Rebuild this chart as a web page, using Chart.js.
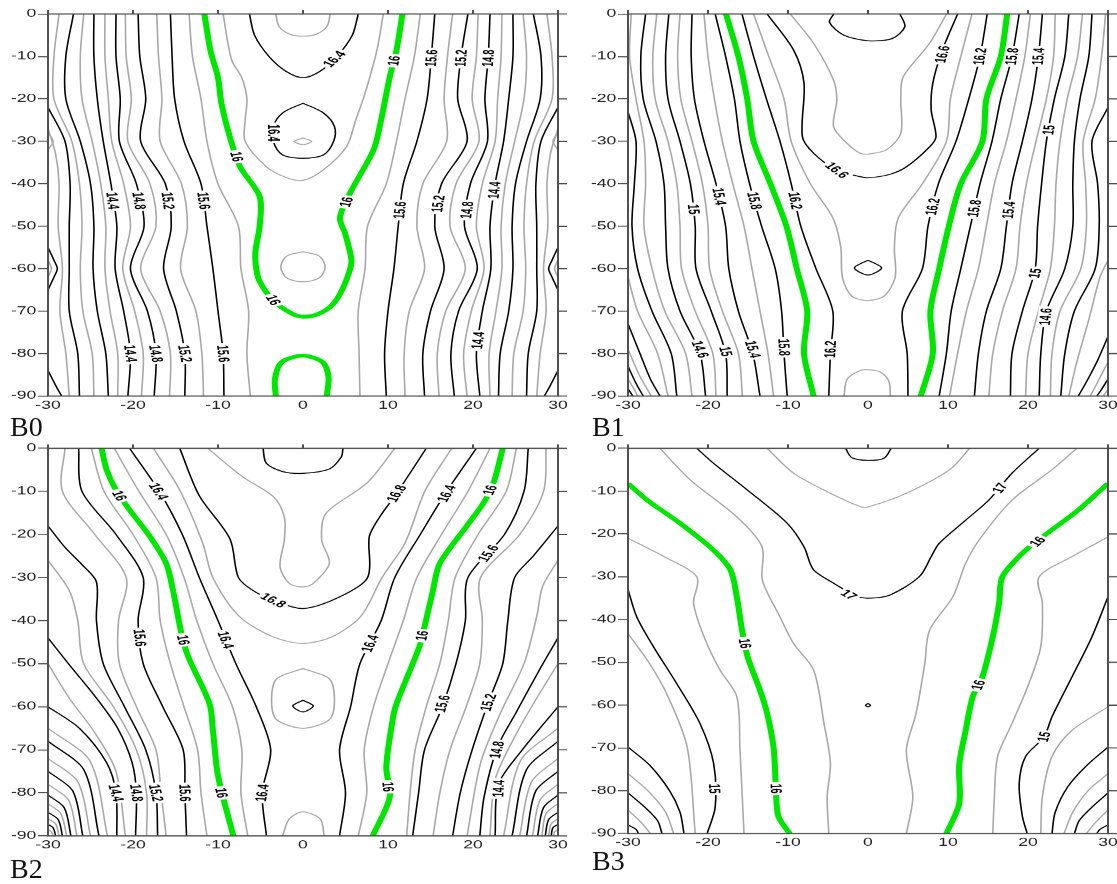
<!DOCTYPE html>
<html>
<head>
<meta charset="utf-8">
<script src="https://cdn.jsdelivr.net/npm/chart.js@4"></script>
<style>
  html, body { margin: 0; padding: 0; background: #fff; overflow: hidden; }
  #wrap { position: relative; width: 1117px; height: 884px; }
  canvas { position: absolute; transform: scaleX(1.6); transform-origin: 0 0; }
  .tag { position: absolute; font-family: "Liberation Serif", "Times New Roman", serif; font-size: 28px; line-height: 28px; color: #111; }
</style>
</head>
<body>
<div id="wrap">
  <canvas id="b0" width="360" height="425" style="left:0;top:0;width:360px;height:425px"></canvas>
  <canvas id="b1" width="345" height="425" style="left:575px;top:0;width:345px;height:425px"></canvas>
  <canvas id="b2" width="360" height="459" style="left:0;top:425px;width:360px;height:459px"></canvas>
  <canvas id="b3" width="345" height="459" style="left:575px;top:425px;width:345px;height:459px"></canvas>
  <div class="tag" style="left:10px;top:413px">B0</div>
  <div class="tag" style="left:592px;top:413px">B1</div>
  <div class="tag" style="left:10px;top:855px">B2</div>
  <div class="tag" style="left:592px;top:847px">B3</div>
</div>
<script>
// depth samples shared by most contour lines (y values)
const depths = [0, -10, -20, -30, -40, -50, -60, -70, -80, -90];
const xRange = [-30, 30];
const yRange = [-90, 0];

// contour lines: [style, x values, depths (optional, default = depths)]
// style: k = labelled level (black), g = intermediate level (grey), G = level 16 (green)
const b0Lines = [
  ['k', [-15.6, -15.4, -15.1, -14.0, -12.0, -11.3, -10.6, -10.0, -9.4, -9.3]],
  ['g', [-13.4, -13.0, -12.0, -11.3, -10.0, -7.6, -7.3, -6.4, -6.6, -6.2]],
  ['g', [-17.2, -17.0, -16.6, -16.8, -14.3, -13.6, -14.4, -12.6, -11.9, -11.7]],
  ['k', [-19.4, -19.2, -18.5, -19.1, -16.2, -15.5, -16.4, -14.9, -13.9, -13.9]],
  ['g', [-20.9, -20.8, -20.2, -20.6, -18.0, -17.3, -19.1, -16.8, -15.6, -15.7]],
  ['k', [-22.0, -22.0, -21.5, -21.6, -19.6, -18.7, -20.3, -18.3, -17.3, -17.5]],
  ['g', [-23.3, -23.3, -22.9, -22.5, -21.1, -20.3, -21.2, -19.8, -18.8, -19.0]],
  ['k', [-24.6, -24.6, -24.2, -23.5, -22.6, -21.9, -22.1, -21.1, -20.3, -20.6]],
  ['g', [-25.8, -26.2, -26.0, -24.8, -23.8, -23.2, -23.3, -22.7, -21.8, -21.8]],
  ['k', [-27.0, -27.9, -27.9, -26.2, -25.0, -24.6, -24.7, -24.2, -23.2, -22.9]],
  ['g', [-28.7, -29.3, -29.3, -27.2, -26.3, -26.0, -26.2, -25.9, -24.8, -24.6]],
  ['k', [-30, -28.0, -27.4, -27.5, -27.5, -27.5, -26.5, -26.3], [-22, -30, -40, -50, -60, -70, -80, -90]],
  ['g', [-30, -29.1, -28.7, -28.8, -28.3, -28.6, -27.9, -27.5], [-27, -33, -40, -50, -60, -70, -80, -90]],
  ['k', [-30, -29.3, -28.9, -29.3, -30], [-55, -58, -60, -62, -65]],
  ['k', [-30, -29.1, -28.4], [-84, -87.5, -90]],
  ['g', [-30, -29.4, -30], [-28, -30, -32]],
  ['g', [-30, -29.6, -30], [-58, -60, -62]],
  ['g', [-9.4, -8.4, -7.2, -6.6, -6.8, -6.8, -4.3, -2.0, 0, 2.35, 5.1, 6.2, 7.3, 8.7, 9.45],
        [0, -10.8, -15, -20, -25, -30, -36, -38.5, -39.2, -36.8, -31.3, -25, -18.7, -8.5, 0]],
  ['k', [-6.3, -5.7, -4, -2, 0, 2, 4, 5.8, 6.5], [0, -5, -10, -13.5, -15, -13.5, -10, -5, 0]],
  ['g', [-3.2, -2.8, -1.5, 0, 1.5, 2.8, 3.2], [0, -3, -4.8, -5.2, -4.8, -3, 0]],
  ['k', [0, 2.4, 3.7, 3.6, 2.4, 0, -2.4, -3.5, -3.5, -2.4, 0], [-21, -23.3, -26.5, -30, -33.2, -34, -33.2, -30, -26.5, -23.3, -21]],
  ['g', [0, 1, 0, -1, 0], [-29.2, -30, -30.8, -30, -29.2]],
  ['g', [0, 1.9, 2.6, 1.9, 0, -1.9, -2.6, -1.9, 0], [-56, -57, -59.6, -62.2, -63.1, -62.2, -59.6, -57, -56]],
  ['k', [15.5, 15.1, 14.6, 13.4, 11.8, 11.2, 10.7, 10.0, 9.6, 9.8]],
  ['g', [13.8, 13.1, 12.0, 11.0, 9.8, 7.6, 7.3, 6.5, 6.6, 6.7]],
  ['g', [17.6, 17.0, 16.6, 16.9, 14.1, 13.4, 14.3, 12.5, 11.9, 12.0]],
  ['k', [19.4, 18.6, 18.2, 19.3, 16.3, 15.5, 16.6, 15.0, 14.1, 14.3]],
  ['g', [20.6, 20.4, 19.9, 20.7, 18.0, 17.3, 19.1, 16.8, 15.8, 16.0]],
  ['k', [22.0, 21.8, 21.4, 21.7, 19.7, 19.0, 20.5, 18.3, 17.4, 17.8]],
  ['g', [23.4, 23.3, 22.9, 22.6, 21.1, 20.4, 21.3, 19.8, 18.9, 19.3]],
  ['k', [24.7, 24.7, 24.2, 23.6, 22.6, 22.0, 22.1, 21.1, 20.4, 20.8]],
  ['g', [25.9, 26.3, 26.0, 24.9, 23.8, 23.3, 23.4, 22.7, 21.9, 22.0]],
  ['k', [27.1, 28.0, 27.9, 26.3, 25.0, 24.6, 24.7, 24.2, 23.2, 23.0]],
  ['g', [28.7, 29.3, 29.3, 27.2, 26.3, 26.0, 26.2, 25.9, 24.8, 24.6]],
  ['k', [30, 28.0, 27.4, 27.5, 27.5, 27.5, 26.5, 26.3], [-22, -30, -40, -50, -60, -70, -80, -90]],
  ['g', [30, 29.1, 28.7, 28.8, 28.3, 28.6, 27.9, 27.5], [-27, -33, -40, -50, -60, -70, -80, -90]],
  ['k', [30, 29.3, 28.9, 29.3, 30], [-55, -58, -60, -62, -65]],
  ['k', [30, 29.1, 28.4], [-84, -87.5, -90]],
  ['g', [30, 29.4, 30], [-28, -30, -32]],
  ['g', [30, 29.6, 30], [-58, -60, -62]],
  ['G', [-11.6, -10.9, -10.0, -9.6, -8.6, -7.4, -5.1, -5.1, -5.6, -5.5, -5.1, -3.5, -1.2, 0, 1.5, 3.2, 4.35, 5.4, 5.7, 5.0, 4.35, 5.5, 8.3, 9.1, 10.2, 11.0, 11.7],
        [0, -8.5, -15, -21, -29, -36, -43, -50, -56, -60, -63, -67.5, -70.7, -71.3, -70.9, -69, -66, -61, -58, -52, -48, -42.3, -32, -25.8, -14.9, -8.5, 0]],
  ['G', [-3.2, -3.3, -2.5, 0, 2.3, 3.0, 2.8], [-90, -86, -82, -80.5, -82, -85.5, -90]]
];
const b0Labels = [
  ['14.4', -22.4, -44], ['14.8', -19.3, -44], ['15.2', -15.9, -44], ['15.6', -11.7, -44],
  ['14.4', -20.3, -80], ['14.8', -17.3, -80], ['15.2', -13.9, -80], ['15.6', -9.4, -80],
  ['16', -7.8, -33.6], ['16', -3.5, -67.4], ['16.4', -3.5, -28], ['16.4', 3.7, -10.6],
  ['16', 10.7, -11], ['16', 5.1, -44.3],
  ['15.6', 15.1, -10.4], ['15.2', 18.6, -10.4], ['14.8', 21.8, -10.4],
  ['15.6', 11.4, -46.2], ['15.2', 15.9, -44.7], ['14.8', 19.3, -46.2], ['14.4', 22.5, -41.5], ['14.4', 20.6, -76.9]
];

const b1Lines = [
  ['k', [-27.8, -28.4, -28.1, -26.5, -25.5, -25.3, -25.0, -23.5, -21.0, -20.3]],
  ['g', [-26.4, -26.9, -26.6, -25.0, -23.9, -23.5, -23.3, -21.6, -19.4, -19.0]],
  ['k', [-24.9, -25.3, -25.0, -23.5, -22.2, -21.6, -21.5, -19.6, -17.8, -17.6]],
  ['g', [-23.5, -23.8, -23.4, -22.0, -20.7, -20.0, -19.8, -18.2, -16.2, -15.7]],
  ['k', [-22.0, -22.1, -21.7, -20.5, -19.0, -17.8, -17.4, -16.2, -14.4, -13.5]],
  ['g', [-20.5, -20.0, -19.2, -18.2, -16.9, -15.5, -14.5, -13.5, -12.5, -11.8]],
  ['k', [-19.1, -17.8, -16.7, -16.0, -14.8, -13.3, -11.6, -10.8, -10.5, -10.1]],
  ['k', [-15.75, -14.3, -12.7, -11.0, -9.6, -8.4, -6.5, -4.4, -4.7, -4.9]],
  ['g', [-14.3, -12.4, -10.5, -9.6, -7.2, -4.4, -3.4, -3.2, -2.0, 0, 2.0, 3.4, 3.3, 3.8, 6.8, 9.8, 10.3, 11.6, 13.0],
        [0, -10, -20, -30, -40, -48, -55, -62, -66.5, -67.5, -66.5, -62, -55, -48, -40, -30, -20, -10, 0]],
  ['k', [-12.6, -9.3, -8.0, -8.2, -6.8, -3.9, -1.0, 0, 2.7, 4.8, 7.7, 8.5, 7.9, 8.1, 9.3, 11.2],
        [0, -8.5, -16.3, -28.9, -32.8, -36.8, -38.3, -38.6, -37.8, -36, -31.3, -28.9, -22.6, -16.3, -8.5, 0]],
  ['g', [-9.7, -6.8, -4.3, -3.9, -4.3, -2.6, -1.0, 0, 2.3, 4.1, 4.1, 4.4, 7.7, 9.8],
        [0, -6.9, -15.6, -20.3, -26.6, -30.5, -32.8, -33, -32, -28.1, -20.3, -14.8, -6.9, 0]],
  ['k', [-4.3, -4.8, -3, 0, 3, 4.6, 4.0], [0, -2, -5, -6.3, -5.8, -3, 0]],
  ['k', [0, 1.7, 0, -1.7, 0], [-58, -59.8, -61.5, -59.8, -58]],
  ['g', [-3.0, -2.6, -1, 0, 1.5, 2.6, 2.8], [-90, -86, -84, -83.8, -84.3, -86.5, -90]],
  ['g', [-29.6, -29.8, -29.0, -28.0, -27.8, -28.0, -27.0, -25.4, -22.8, -22.0]],
  ['k', [-30, -29.0, -29.2, -29.5, -28.8, -27.0, -24.6, -23.9], [-23, -30, -40, -50, -60, -70, -80, -90]],
  ['g', [-30, -28.8, -26.3, -25.0], [-62, -70, -80, -90]],
  ['k', [-30, -28.5, -27.2, -26.0], [-73, -80, -86, -90]],
  ['g', [-30, -28.6, -27.1], [-79, -85, -90]],
  ['k', [-30, -29.0, -28.1], [-83, -87, -90]],
  ['g', [-30, -29.2, -28.8], [-86, -88.5, -90]],
  ['k', [-30, -29.4], [-88.3, -90]],
  ['k', [18.9, 18.0, 16.6, 15.5, 14.0, 12.8, 11.6, 10.4, 9.8, 8.9]],
  ['g', [20.3, 19.6, 18.5, 17.3, 15.8, 14.8, 13.8, 12.3, 11.2, 10.2]],
  ['k', [21.8, 21.3, 20.5, 19.3, 18.0, 17.3, 16.6, 14.8, 13.8, 13.3]],
  ['g', [23.4, 23.2, 22.3, 21.0, 19.8, 19.0, 18.5, 16.8, 15.6, 15.1]],
  ['k', [25.1, 24.6, 23.3, 22.3, 21.7, 21.2, 20.9, 19.3, 18.0, 17.8]],
  ['g', [26.8, 26.2, 24.9, 24.0, 23.5, 23.3, 22.8, 21.3, 20.0, 19.7]],
  ['k', [28.0, 27.6, 26.5, 25.8, 25.6, 25.6, 24.6, 22.3, 21.6, 21.4]],
  ['g', [29.7, 29.2, 28.4, 26.9, 27.2, 27.3, 26.6, 24.0, 23.0, 22.8]],
  ['k', [30, 28.0, 28.7, 28.9, 28.4, 25.8, 24.6, 24.1], [-22, -30, -40, -50, -60, -70, -80, -90]],
  ['g', [30, 29.0, 27.6, 26.1, 25.1], [-58, -62, -72, -82, -90]],
  ['k', [30, 28.6, 27.5, 26.3], [-76, -82, -86, -90]],
  ['g', [30, 28.9, 27.8], [-82, -86, -90]],
  ['k', [30, 29.0, 28.6], [-86, -89, -90]],
  ['g', [30, 29.4], [-88.5, -90]],
  ['k', [14.9, 14.0, 12.6, 11.0, 8.8, 7.5, 6.8, 4.3, 4.9, 5.0]],
  ['G', [-17.75, -16.2, -15.1, -14.3, -12.2, -10.2, -8.9, -7.6, -8.0, -6.8]],
  ['G', [17.4, 16.6, 14.8, 14.3, 11.6, 10.1, 8.9, 7.8, 8.1, 6.6]]
];
const b1Labels = [
  ['15', -21.8, -46], ['15.4', -18.6, -43], ['15.8', -14.2, -44], ['16.2', -9.1, -44], ['16.6', -3.9, -36.8],
  ['14.6', -21.0, -79], ['15', -17.8, -79.5], ['15.4', -14.4, -79], ['15.8', -10.5, -78.5], ['16.2', -4.7, -79],
  ['16.6', 9.3, -9.5], ['16.2', 14.0, -10], ['15.8', 18.0, -10], ['15.4', 21.3, -10], ['15', 22.6, -27.3],
  ['16.2', 8.1, -45.4], ['15.8', 13.3, -45.8], ['15.4', 17.6, -46.2], ['15', 20.9, -61.1], ['14.6', 22.2, -71.3]
];

const b2Lines = [
  ['g', [-22.2, -19.3, -16.1, -14.0, -12.5, -10.6, -8.3, -7.2, -7.3, -6.5]],
  ['k', [-20.4, -16.9, -14.2, -12.2, -10.0, -7.9, -5.5, -3.8, -4.8, -4.3]],
  ['g', [-17.6, -14.5, -11.8, -10.6, -7.5, -3.5, 0, 3.4, 6.8, 9.3, 12.0, 14.4, 17.5], [0, -9.7, -22, -30, -39, -43.8, -45.3, -43.8, -39, -30, -22, -9.7, 0]],
  ['k', [-14.5, -12.2, -8.6, -7.6, -5.9, -3.5, 0, 4.3, 7.6, 7.8, 9.0, 11.0, 14.5], [0, -11, -21, -30, -33, -35.3, -37.2, -34.5, -30, -20.5, -16, -10.5, 0]],
  ['g', [-11.2, -7.1, -3.5, -2.2, -2.2, -2.7, -1.6, 0, 1.2, 3.1, 2.2, 2.7, 7.5, 10.8], [0, -6.6, -11.2, -15.9, -21.3, -27.5, -31.4, -32.2, -31.4, -26.7, -21.3, -15.1, -8.1, 0]],
  ['k', [-4.7, -4.3, -2.4, 0, 3.1, 4.5, 4.7], [0, -3.5, -5.4, -5.8, -4.8, -2, 0]],
  ['g', [0, 3.1, 3.7, 3.1, 0, -3.1, -3.7, -3.1, 0], [-51.1, -53.5, -58.5, -63, -65, -63, -58.5, -53.5, -51.1]],
  ['k', [0, 1.2, 0, -1.2, 0], [-58.5, -59.8, -61.2, -59.8, -58.5]],
  ['g', [-2.4, -1.6, 0, 2.0, 2.5], [-90, -86, -84.4, -86, -90]],
  ['g', [-24.9, -23.4, -20.0, -17.3, -16.8, -15.6, -14.0, -12.4, -12.0, -11.3]],
  ['k', [-26.4, -26.0, -22.0, -18.8, -19.4, -18.8, -16.5, -14.1, -13.9, -13.7]],
  ['g', [-28.0, -28.3, -24.5, -20.8, -21.7, -21.6, -19.6, -17.3, -16.7, -16.1]],
  ['k', [-30, -28, -26, -24.3, -24.3, -23.5, -21.0, -18.5, -17.3, -17.1], [-18, -23, -27, -31, -40, -50, -60, -70, -80, -90]],
  ['g', [-30, -27.5, -26.5, -25.8, -22.3, -19.6, -18.4, -18.4], [-26, -33, -40, -50, -60, -70, -80, -90]],
  ['k', [-30, -27.6, -24.3, -21.8, -20.1, -19.6, -19.7], [-44, -50, -58, -65, -73, -80, -90]],
  ['g', [-30, -27.5, -24.5, -22.0, -20.9], [-50, -58, -66, -75, -90]],
  ['k', [-30, -26.3, -23.1, -22.0, -21.9], [-60, -65, -73, -80, -90]],
  ['g', [-30, -25.1, -23.0], [-65, -72.5, -90]],
  ['k', [-30, -25.8, -24.0], [-68, -74.6, -90]],
  ['g', [-30, -26.5, -25.0], [-72, -77.4, -90]],
  ['k', [-30, -27.1, -25.9], [-75, -79.5, -90]],
  ['g', [-30, -27.6, -26.6], [-78, -81.6, -90]],
  ['k', [-30, -28.1, -27.3], [-80.5, -83.4, -90]],
  ['g', [-30, -28.5, -27.8], [-82.5, -84.8, -90]],
  ['k', [-30, -28.8, -28.3], [-84.5, -86.2, -90]],
  ['g', [-30, -29.1, -28.7], [-86, -87.2, -90]],
  ['k', [-30, -29.4, -29.1], [-87.3, -88.1, -90]],
  ['g', [-30, -29.6, -29.4], [-88.5, -89, -90]],
  ['g', [22.0, 19.4, 16.3, 13.4, 11.8, 10.0, 8.3, 7.2, 7.5, 6.5]],
  ['k', [20.4, 16.9, 13.8, 10.8, 9.2, 6.7, 5.6, 4.3, 5.0, 4.3]],
  ['g', [25.1, 23.9, 20.6, 17.9, 17.1, 16.1, 14.5, 13.2, 12.6, 12.2]],
  ['k', [26.5, 26.0, 23.7, 19.4, 19.1, 18.0, 16.4, 14.3, 13.6, 12.9]],
  ['g', [28.6, 28.3, 25.5, 20.9, 21.1, 20.8, 19.2, 17.3, 16.1, 15.3]],
  ['k', [30, 27.1, 24.9, 24.1, 23.5, 21.8, 19.9, 18.5, 17.6], [-18, -25, -30, -40, -50, -59, -70, -80, -90]],
  ['g', [30, 28.2, 27.5, 26.0, 23.2, 20.9, 19.3], [-26, -32, -39, -50, -61.6, -73, -90]],
  ['k', [30, 27.8, 25.0, 22.9, 21.3, 20.8], [-44, -51.5, -61.6, -69.3, -81, -90]],
  ['g', [30, 27.5, 24.9, 22.6, 22.0], [-50, -58, -67, -77, -90]],
  ['k', [30, 25.8, 23.0, 22.6], [-60, -70, -78, -90]],
  ['g', [30, 25.6, 23.6], [-65, -72.5, -90]],
  ['k', [30, 26.3, 24.6], [-68, -74.6, -90]],
  ['g', [30, 26.9, 25.5], [-72, -77.4, -90]],
  ['k', [30, 27.4, 26.3], [-75, -79.5, -90]],
  ['g', [30, 27.9, 27.0], [-78, -81.6, -90]],
  ['k', [30, 28.3, 27.6], [-80.5, -83.4, -90]],
  ['g', [30, 28.6, 28.1], [-82.5, -84.8, -90]],
  ['k', [30, 28.9, 28.5], [-84.5, -86.2, -90]],
  ['g', [30, 29.2, 28.9], [-86, -87.2, -90]],
  ['k', [30, 29.4, 29.2], [-87.3, -88.1, -90]],
  ['g', [30, 29.6, 29.5], [-88.5, -89, -90]],
  ['G', [-23.7, -23.1, -22.0, -20.4, -18.0, -16.1, -15.3, -14.3, -13.5, -11.0, -10.6, -10.0, -8.2], [0, -5, -9.7, -14.3, -20.5, -26.7, -32.9, -43, -48.4, -59.3, -65.5, -76, -90]],
  ['G', [23.5, 22.4, 21.2, 19.2, 16.1, 15.3, 14.3, 13.7, 11.0, 10.6, 9.8, 10.2, 8.2], [0, -8.1, -12.8, -18.2, -26.7, -32.9, -41.4, -46, -59.3, -62.4, -74, -81, -90]]
];
const b2Labels = [
  ['16', -21.6, -11], ['16.4', -17.0, -10], ['16.8', -3.5, -35.3],
  ['15.6', -19.2, -44], ['16', -14.1, -44.5], ['16.4', -9.1, -44.5],
  ['14.4', -22.0, -80], ['14.8', -19.6, -80], ['15.2', -17.3, -80], ['15.6', -13.9, -80], ['16', -9.6, -80], ['16.4', -4.8, -80],
  ['16.8', 11.0, -10.5], ['16.4', 16.9, -10.5], ['16', 22.0, -9.7], ['15.6', 21.8, -24.4],
  ['16.4', 7.9, -45.3], ['16', 14.0, -43.5], ['15.6', 16.4, -59.3], ['15.2', 21.8, -59],
  ['14.8', 22.8, -70], ['14.4', 23.0, -79], ['16', 10.0, -78.6]
];

const b3Lines = [
  ['k', [-21.4, -19.3, -15.1, -10.1, -8.0, -6.8, -4.3, -1.5, 0, 2.7, 6.4, 7.9, 8.9, 12.2, 15.1, 18.0, 21.4],
        [0, -3.5, -9.7, -17.5, -23, -28.4, -31.5, -34.5, -35, -34.3, -30, -25.3, -22.2, -16.8, -12.1, -5.8, 0]],
  ['g', [-12.6, -9.3, -4.7, -1.0, 0, 4.8, 10.2, 12.7], [0, -5.8, -10.5, -13.6, -13.7, -10.5, -5, 0]],
  ['k', [-2.8, -2.0, 0, 2.0, 2.9], [0, -2.2, -2.8, -2.3, 0]],
  ['g', [-26.0, -22.2, -16.4, -13.25, -13.2, -11.0, -9.3, -6.8, -5.5, -4.7, -5.1, -4.9], [0, -7.4, -16, -23, -30.8, -39.4, -45.6, -51.8, -64.3, -73.6, -81.4, -90]],
  ['g', [26.1, 23.0, 18.0, 13.9, 12.2, 10.6, 7.7, 7.1, 6.0, 4.8, 5.6, 4.8], [0, -5, -12.1, -21.4, -26.9, -34.7, -42.5, -50.3, -62, -70.5, -81.4, -90]],
  ['g', [-30, -25.5, -21.4, -21.8, -20.5, -18.5, -16.4, -16.0, -15.5], [-21, -25.3, -30, -36.2, -44, -51.8, -58, -70.5, -90]],
  ['g', [30, 25.5, 21.4, 21.8, 21.6, 20.1, 18.0, 16.2, 15.8, 15.6], [-20.7, -25.3, -30, -36.2, -46.3, -55, -64.3, -72, -81.4, -90]],
  ['k', [-30, -28.9, -26.8, -23.9, -21.0, -19.3, -19.1, -20.1], [-33, -39.4, -46.4, -55, -64.3, -73.6, -83.8, -90]],
  ['k', [30, 28.0, 25.5, 23.0, 22.0, 19.7, 18.9, 19.3, 19.9], [-34.7, -44, -53.4, -62.7, -67.4, -72, -78.3, -86, -90]],
  ['g', [-30, -27.3, -25.0, -22.6, -21.6], [-43.3, -50.3, -58, -69.8, -90]],
  ['g', [30, 25.5, 23.0, 21.8, 21.6], [-60.4, -65.9, -72, -81.4, -90]],
  ['k', [-30, -27.3, -24.8, -23.5, -23.0], [-69.8, -74, -80, -85, -90]],
  ['k', [30, 27.4, 25.0, 23.4, 23.0], [-69.8, -74, -79, -85, -90]],
  ['g', [-30, -27.5, -25.3, -24.3], [-76, -80, -85, -90]],
  ['g', [30, 27.5, 25.6, 24.5], [-76, -80, -85, -90]],
  ['k', [-30, -27.8, -26.3, -25.75], [-80.5, -84, -87, -90]],
  ['k', [30, 27.9, 26.4, 25.8], [-80.5, -84, -87, -90]],
  ['g', [-30, -28.3, -27.2], [-84.5, -87.5, -90]],
  ['g', [30, 28.4, 27.3], [-84.5, -87.5, -90]],
  ['k', [-30, -29.0, -28.7], [-88, -89, -90]],
  ['k', [30, 29.0, 28.6], [-88, -89, -90]],
  ['k', [0, 0.3, 0, -0.3, 0], [-59.6, -60, -60.4, -60, -59.6]],
  ['G', [-30, -27.6, -23.5, -19.3, -17.2, -16.4, -15.7, -15.0, -13.5, -12.6, -11.8, -11.5, -11.2, -9.8],
        [-8.2, -12.1, -17.5, -23.8, -28.4, -34.7, -43, -49, -56.5, -62, -70, -80, -86, -90]],
  ['G', [30, 26.3, 21.8, 19.3, 16.8, 16.4, 15.6, 14.3, 13.1, 12.2, 11.4, 11.4, 9.8],
        [-8.2, -14.4, -20.7, -24.5, -30, -36, -44, -53.4, -58, -66, -74, -83, -90]]
];
const b3Labels = [
  ['17', -2.4, -34.2], ['17', 16.5, -9.3], ['16', 21.2, -21.8], ['16', -15.4, -45.6],
  ['16', -11.5, -79.5], ['16', 13.8, -55.3], ['15', -19.2, -79.5], ['15', 22.0, -67.4]
];

const lineStyle = {
  k: { color: '#000000', width: 1 },
  g: { color: '#a8a8a8', width: 1 },
  G: { color: '#00e600', width: 3.8 }
};

function nearestAngle(chart, px, py) {
  let best = Infinity, ang = 0;
  chart.data.datasets.forEach((ds, i) => {
    const pts = chart.getDatasetMeta(i).data;
    for (let k = 0; k < pts.length - 1; k++) {
      const p = pts[k], q = pts[k + 1];
      const dx = q.x - p.x, dy = q.y - p.y;
      const len2 = dx * dx + dy * dy || 1;
      let t = ((px - p.x) * dx + (py - p.y) * dy) / len2;
      t = Math.max(0, Math.min(1, t));
      const d = Math.hypot(p.x + t * dx - px, p.y + t * dy - py);
      if (d < best) { best = d; ang = Math.atan2(dy, dx); }
    }
  });
  if (ang > Math.PI / 2) ang -= Math.PI;
  if (ang <= -Math.PI / 2) ang += Math.PI;
  return ang;
}

// frame, outer ticks on top/right, and inline contour labels
const decor = (labels) => ({
  id: 'decor',
  afterDatasetsDraw(chart) {
    const { ctx, chartArea: a, scales: { x, y } } = chart;
    ctx.save();
    ctx.font = 'bold 10px "Liberation Sans", Arial, sans-serif';
    ctx.textAlign = 'center';
    ctx.textBaseline = 'middle';
    labels.forEach(([text, lx, ly]) => {
      const px = x.getPixelForValue(lx), py = y.getPixelForValue(ly);
      ctx.save();
      ctx.translate(px, py);
      ctx.rotate(nearestAngle(chart, px, py));
      ctx.scale(0.88, 1);
      const w = ctx.measureText(text).width + 4;
      ctx.fillStyle = '#fff';
      ctx.fillRect(-w / 2, -5, w, 10);
      ctx.fillStyle = '#000';
      ctx.fillText(text, 0, 0.5);
      ctx.restore();
    });
    ctx.strokeStyle = '#4a4a4a';
    ctx.lineWidth = 1.2;
    ctx.strokeRect(a.left, a.top, a.right - a.left, a.bottom - a.top);
    ctx.beginPath();
    x.ticks.forEach(t => {
      const X = x.getPixelForValue(t.value);
      ctx.moveTo(X, a.top); ctx.lineTo(X, a.top - 4);
    });
    y.ticks.forEach(t => {
      const Y = y.getPixelForValue(t.value);
      ctx.moveTo(a.right, Y); ctx.lineTo(a.right + 5.6, Y);
    });
    ctx.stroke();
    ctx.restore();
  }
});

function drawPanel(id, lines, labels, box) {
  const datasets = lines.map(([s, xs, ys]) => ({
    data: xs.map((x, i) => ({ x, y: (ys || depths)[i] })),
    showLine: true,
    pointRadius: 0,
    borderColor: lineStyle[s].color,
    borderWidth: lineStyle[s].width,
    tension: 0.3,
    order: s === 'G' ? 0 : (s === 'k' ? 1 : 2)
  }));
  const tickFont = { family: '"Liberation Sans", Arial, sans-serif', size: 11 };
  new Chart(document.getElementById(id), {
    type: 'scatter',
    data: { datasets },
    options: {
      responsive: false,
      animation: false,
      events: [],
      devicePixelRatio: 1.6,
      layout: { padding: { left: 0, top: box.top, right: box.right, bottom: 0 } },
      plugins: { legend: { display: false }, tooltip: { enabled: false } },
      scales: {
        x: {
          type: 'linear', min: xRange[0], max: xRange[1],
          ticks: { stepSize: 10, autoSkip: false, maxRotation: 0, color: '#222', font: tickFont, padding: 3 },
          grid: { drawOnChartArea: false, drawTicks: false },
          border: { display: false },
          afterFit: s => { s.height = box.xh; }
        },
        y: {
          type: 'linear', min: yRange[0], max: yRange[1],
          ticks: { stepSize: 10, autoSkip: false, color: '#222', font: tickFont, padding: 1 },
          grid: { drawOnChartArea: false, drawTicks: true, tickLength: 6.25, color: '#4a4a4a' },
          border: { display: false },
          afterFit: s => { s.width = box.yw; }
        }
      }
    },
    plugins: [decor(labels)]
  });
}

drawPanel('b0', b0Lines, b0Labels, { top: 14, right: 11.25, xh: 29, yw: 30 });
drawPanel('b1', b1Lines, b1Labels, { top: 14, right: 11.875, xh: 29, yw: 33.125 });
drawPanel('b2', b2Lines, b2Labels, { top: 23.3, right: 11.25, xh: 48.3, yw: 30 });
drawPanel('b3', b3Lines, b3Labels, { top: 23.3, right: 11.875, xh: 50.7, yw: 33.125 });
</script>
</body>
</html>
